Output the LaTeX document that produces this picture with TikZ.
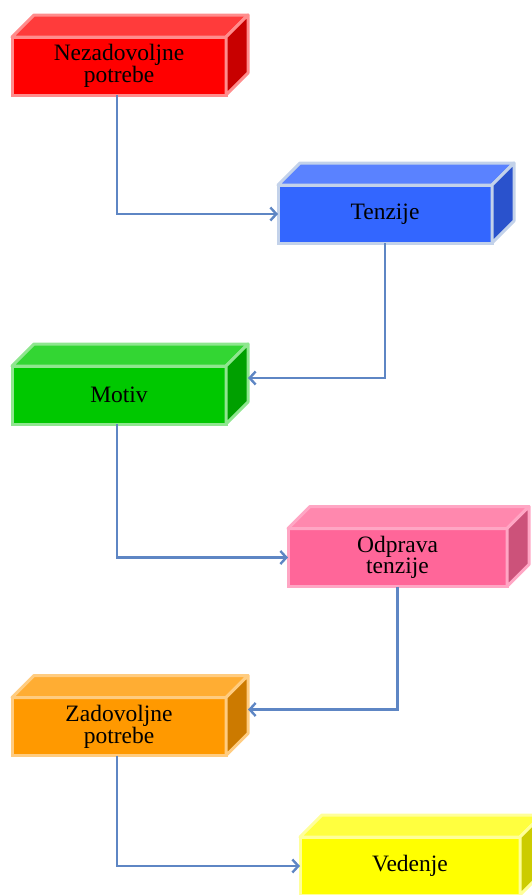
\documentclass[tikz,border=0pt]{standalone}
\usepackage{fontspec}
\setmainfont{Liberation Serif}
\usepackage{xcolor}
\usetikzlibrary{positioning,arrows.meta,calc}
\definecolor{link}{HTML}{5E86C4}
\definecolor{redf}{HTML}{FF0000}\definecolor{redt}{HTML}{FF3B3B}\definecolor{reds}{HTML}{C80000}\definecolor{redr}{HTML}{FF8C8C}
\definecolor{bluf}{HTML}{3366FF}\definecolor{blut}{HTML}{5A82FF}\definecolor{blus}{HTML}{2A52CC}\definecolor{blur}{HTML}{C3D2EA}
\definecolor{grnf}{HTML}{00C800}\definecolor{grnt}{HTML}{33D633}\definecolor{grns}{HTML}{00A000}\definecolor{grnr}{HTML}{8FE68F}
\definecolor{pnkf}{HTML}{FF6699}\definecolor{pnkt}{HTML}{FF88AE}\definecolor{pnks}{HTML}{CC527A}\definecolor{pnkr}{HTML}{FFA6C4}
\definecolor{orgf}{HTML}{FF9900}\definecolor{orgt}{HTML}{FFAD33}\definecolor{orgs}{HTML}{CC7A00}\definecolor{orgr}{HTML}{FFCC80}
\definecolor{ylwf}{HTML}{FFFF00}\definecolor{ylwt}{HTML}{FFFF3F}\definecolor{ylws}{HTML}{CCCC00}\definecolor{ylwr}{HTML}{FFFF99}
% cuboid: name, position, colour prefix, text
\newcommand{\cuboid}[4]{%
  \node[b,fill=#3f,draw=#3r] (#1) at (#2) {#4};
  \draw[face,fill=#3t,draw=#3r] (#1.north west) -- ++(22pt,22pt) -- ($(#1.north east)+(22pt,22pt)$) -- (#1.north east) -- cycle;
  \draw[face,fill=#3s,draw=#3r] (#1.north east) -- ++(22pt,22pt) -- ($(#1.south east)+(22pt,22pt)$) -- (#1.south east) -- cycle;
  \coordinate (#1-side) at ($(#1.east)+(22pt,17pt)$);}

\begin{document}
\begin{tikzpicture}[x=1pt,y=-1pt,every node/.style={font=\fontsize{23.5}{20}\selectfont,text=black},
  b/.style={line width=3pt,outer sep=0pt,inner sep=0pt,minimum width=214pt,minimum height=58pt,align=center},
  face/.style={line width=3pt,line join=round},
  a/.style={-{Straight Barb[length=6pt,width=13pt]},line width=2.4pt,link}]
  \useasboundingbox (0,0) rectangle (532,895);
  \clip (0,0) rectangle (532,895);
  \cuboid{need}{119,66}{red}{Nezadovoljne\\potrebe}
  \cuboid{tens}{385,214}{blu}{Tenzije}
  \cuboid{mot}{119,395}{grn}{Motiv}
  \node[b,fill=pnkf,draw=pnkr,minimum width=219pt] (rel) at (397.5,557.5) {Odprava\\tenzije};
  \draw[face,fill=pnkt,draw=pnkr] (rel.north west) -- ++(22pt,22pt) -- ($(rel.north east)+(22pt,22pt)$) -- (rel.north east) -- cycle;
  \draw[face,fill=pnks,draw=pnkr] (rel.north east) -- ++(22pt,22pt) -- ($(rel.south east)+(22pt,22pt)$) -- (rel.south east) -- cycle;
  \cuboid{sat}{119,726.5}{org}{Zadovoljne\\potrebe}
  \node[b,fill=ylwf,draw=ylwr,minimum width=220pt] (beh) at (410,866) {Vedenje};
  \draw[face,fill=ylwt,draw=ylwr] (beh.north west) -- ++(22pt,22pt) -- ($(beh.north east)+(22pt,22pt)$) -- (beh.north east) -- cycle;
  \draw[face,fill=ylws,draw=ylwr] (beh.north east) -- ++(22pt,22pt) -- ($(beh.south east)+(22pt,22pt)$) -- (beh.south east) -- cycle;
  \draw[a] ([xshift=-2pt]need.south) |- (tens.west);
  \draw[a] (tens.south) |- (mot-side);
  \draw[a] ([xshift=-2pt]mot.south) |- (rel.west);
  \draw[a] (rel.south) |- (sat-side);
  \draw[a] ([xshift=-2pt]sat.south) |- (beh.west);
\end{tikzpicture}
\end{document}
